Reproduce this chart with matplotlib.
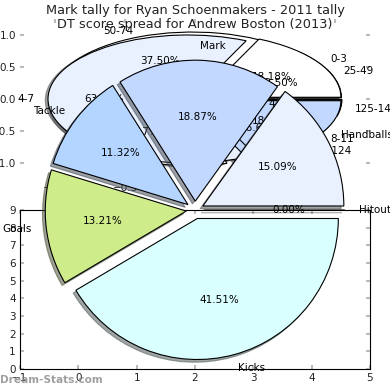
import matplotlib
matplotlib.use("Agg")
import matplotlib.pyplot as plt

W = 390.0

# mark tally pie
mark_labels = ["0-3", "4-7", "8-11"]
mark_counts = [2, 7, 2]
mark_colors = ["#FFFFFF", "#E9F1FF", "#C3D8FF"]

# DT score pie, sits underneath the mark pie
score_labels = ["25-49", "50-74", "75-99", "100-124", "125-149"]
score_counts = [3, 9, 7, 4, 1]
score_colors = ["#000000", "#FFFFFF", "#FFFFFF", "#C3D8FF", "#000000"]

# stat breakdown pie
stat_labels = ["Hitout", "Kicks", "Goals", "Tackle", "Mark", "Handballs"]
stat_counts = [0, 22, 7, 6, 10, 8]
stat_colors = ["#E9F1FF", "#D9FFFF", "#CFEC8A", "#B3D5FF", "#C3D8FF", "#E9F1FF"]

plt.rcParams["font.size"] = 7.5
TICK = "#BBBBBB"
SHADOW = {"ox": -0.014, "oy": -0.014, "shade": 0.7}


def box(left, top, right, bottom):
    # pixel box to figure fractions
    return [left / W, 1 - bottom / W, (right - left) / W, (bottom - top) / W]


def set_ticks(ax):
    ax.tick_params(direction="in", top=True, right=True, color=TICK,
                   width=1.5, length=3, pad=3, labelcolor="#222222")


fig = plt.figure(figsize=(3.9, 3.9), dpi=100)

# top axes: squashed pies, no frame
ax_top = fig.add_axes(box(20, 19, 370, 179))
for counts, labels, colors in [(score_counts, score_labels, score_colors),
                               (mark_counts, mark_labels, mark_colors)]:
    ax_top.pie(counts, labels=labels, colors=colors, explode=[0.05] * len(counts),
               autopct="%.2f%%", shadow=SHADOW, startangle=0, frame=True,
               wedgeprops={"edgecolor": "black", "linewidth": 0.8},
               textprops={"clip_on": False})
ax_top.set_aspect("auto")
ax_top.set_xlim(-1.25, 1.25)
ax_top.set_ylim(-1.25, 1.25)
ax_top.set_xticks([-1, -0.5, 0, 0.5, 1])
ax_top.set_yticks([-1, -0.5, 0, 0.5, 1])
set_ticks(ax_top)
for s in ax_top.spines.values():
    s.set_visible(False)

# empty framed axes under the big pie
ax_frame = fig.add_axes(box(20, 210, 370, 369))
ax_frame.set_xlim(-1, 5)
ax_frame.set_ylim(0, 9)
ax_frame.set_xticks(range(-1, 6))
ax_frame.set_yticks(range(0, 10))
set_ticks(ax_frame)

# big exploded pie, whole figure so nothing gets clipped
ax_pie = fig.add_axes([0, 0, 1, 1])
ax_pie.pie(stat_counts, labels=stat_labels, colors=stat_colors,
           explode=[0.0625] * len(stat_counts), autopct="%.2f%%", shadow=SHADOW,
           startangle=0, counterclock=False,
           wedgeprops={"edgecolor": "black", "linewidth": 0.8})
R = 141.0
ax_pie.set_xlim(-195 / R, 195 / R)
ax_pie.set_ylim(-180 / R, 210 / R)

fig.text(0.5, 1 - 17.5 / W,
         "Mark tally for Ryan Schoenmakers - 2011 tally\nDT score spread for Andrew Boston (2013)",
         ha="center", va="center", fontsize=9.3, color="#222222", linespacing=1.1)
fig.text(0, 1 - 380 / W, "Dream-Stats.com", ha="left", va="center", fontsize=7.6,
         fontweight="bold", color="#888888", alpha=0.8)

fig.savefig("out.png", dpi=100)
